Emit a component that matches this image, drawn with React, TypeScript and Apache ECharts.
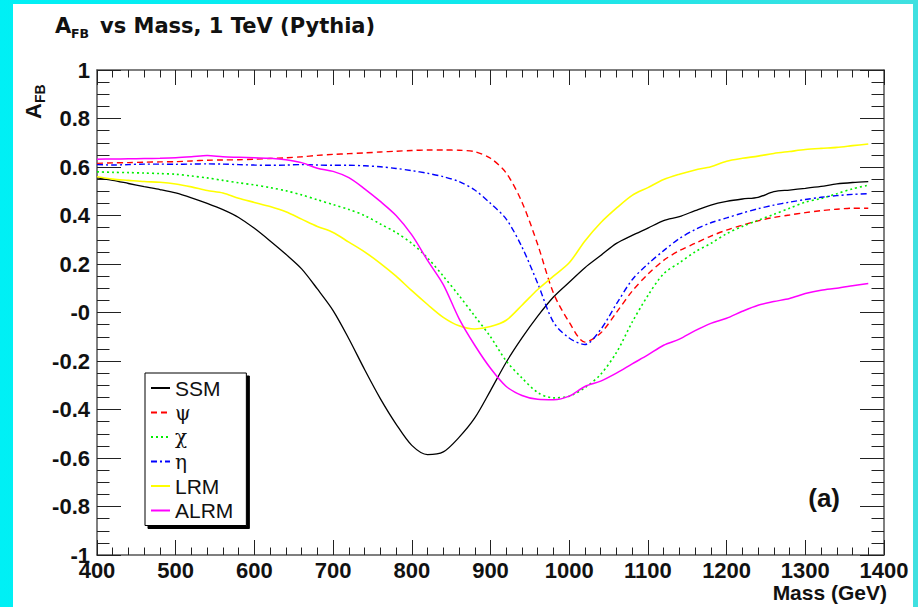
import React, { useEffect, useRef } from "react";
import * as echarts from "echarts";

const MASS = [400, 420, 440, 460, 480, 500, 520, 540, 560, 580, 600, 620, 640, 660, 680, 700, 720, 740, 760, 780, 800, 820, 840, 860, 880, 900, 920, 940, 960, 980, 1000, 1020, 1040, 1060, 1080, 1100, 1120, 1140, 1160, 1180, 1200, 1220, 1240, 1260, 1280, 1300, 1320, 1340, 1360, 1380];

const SSM = [0.555, 0.545, 0.532, 0.519, 0.507, 0.493, 0.473, 0.45, 0.424, 0.392, 0.347, 0.295, 0.24, 0.18, 0.097, 0.008, -0.108, -0.235, -0.355, -0.46, -0.548, -0.586, -0.575, -0.515, -0.435, -0.322, -0.205, -0.105, -0.015, 0.064, 0.125, 0.185, 0.235, 0.285, 0.318, 0.348, 0.379, 0.395, 0.42, 0.443, 0.458, 0.468, 0.475, 0.498, 0.505, 0.512, 0.52, 0.53, 0.536, 0.54];
const PSI = [0.615, 0.617, 0.618, 0.62, 0.621, 0.622, 0.625, 0.628, 0.629, 0.63, 0.632, 0.635, 0.638, 0.642, 0.648, 0.652, 0.655, 0.658, 0.662, 0.665, 0.668, 0.67, 0.67, 0.669, 0.663, 0.636, 0.575, 0.455, 0.28, 0.08, -0.04, -0.122, -0.085, 0.0, 0.088, 0.158, 0.215, 0.255, 0.285, 0.315, 0.34, 0.36, 0.378, 0.392, 0.402, 0.412, 0.42, 0.426, 0.43, 0.43];
const CHI = [0.58, 0.578, 0.577, 0.575, 0.573, 0.57, 0.563, 0.555, 0.545, 0.535, 0.526, 0.515, 0.502, 0.485, 0.465, 0.445, 0.425, 0.4, 0.365, 0.33, 0.285, 0.225, 0.15, 0.07, -0.015, -0.1, -0.2, -0.27, -0.33, -0.352, -0.345, -0.31, -0.255, -0.165, -0.04, 0.07, 0.16, 0.205, 0.25, 0.285, 0.325, 0.355, 0.38, 0.405, 0.43, 0.455, 0.47, 0.49, 0.51, 0.525];
const ETA = [0.61, 0.608, 0.61, 0.612, 0.612, 0.611, 0.612, 0.613, 0.612, 0.61, 0.608, 0.607, 0.608, 0.61, 0.608, 0.607, 0.607, 0.605, 0.601, 0.594, 0.585, 0.574, 0.56, 0.54, 0.505, 0.45, 0.385, 0.27, 0.12, -0.04, -0.105, -0.132, -0.07, 0.035, 0.135, 0.2, 0.255, 0.305, 0.342, 0.37, 0.39, 0.41, 0.428, 0.443, 0.455, 0.466, 0.475, 0.482, 0.487, 0.49];
const LRM = [0.56, 0.55, 0.545, 0.54, 0.537, 0.53, 0.518, 0.503, 0.493, 0.471, 0.454, 0.437, 0.415, 0.385, 0.355, 0.33, 0.29, 0.25, 0.203, 0.15, 0.09, 0.033, -0.02, -0.055, -0.068, -0.058, -0.032, 0.03, 0.095, 0.15, 0.205, 0.295, 0.37, 0.43, 0.483, 0.515, 0.548, 0.57, 0.588, 0.601, 0.624, 0.636, 0.645, 0.656, 0.664, 0.672, 0.677, 0.681, 0.688, 0.695];
const ALRM = [0.632, 0.633, 0.634, 0.635, 0.636, 0.638, 0.642, 0.647, 0.642, 0.64, 0.638, 0.636, 0.63, 0.618, 0.595, 0.582, 0.556, 0.51, 0.458, 0.4, 0.32, 0.215, 0.115, -0.025, -0.135, -0.23, -0.305, -0.342, -0.358, -0.36, -0.345, -0.305, -0.283, -0.25, -0.212, -0.175, -0.135, -0.11, -0.075, -0.045, -0.024, 0.005, 0.03, 0.045, 0.058, 0.078, 0.092, 0.1, 0.11, 0.12];

const SERIES_NAMES = ["SSM", "ψ", "χ", "η", "LRM", "ALRM"];
const GREEK = ["ψ", "χ", "η"];

const X_MIN = 400, X_MAX = 1400, X_STEP = 100;
const Y_MIN = -1, Y_MAX = 1, Y_STEP = 0.2;

const SANS = "'Liberation Sans', Arial, Helvetica, sans-serif";

export default function App() {
  const ref = useRef<HTMLDivElement>(null);

  useEffect(() => {
    if (!ref.current) return;
    const chart = echarts.init(ref.current, null, { renderer: "svg" });
    const pairs = (vals: number[]) => MASS.map((m, i) => [m, vals[i]]);

    const styles = [
      { color: "#000000", type: "solid", width: 1.3 },
      { color: "#ff0000", type: [6, 4], width: 1.4 },
      { color: "#00ee00", type: [2, 3], width: 1.6 },
      { color: "#0000ff", type: [6, 3, 2, 3], width: 1.4 },
      { color: "#ffff00", type: "solid", width: 1.6 },
      { color: "#ff00ff", type: "solid", width: 1.5 },
    ];
    const dataSets = [SSM, PSI, CHI, ETA, LRM, ALRM];

    const axisCommon = {
      axisLine: { show: true, onZero: false, lineStyle: { color: "#555", width: 1.5 } },
      splitLine: { show: false },
    };

    const xAxisBase = {
      type: "value",
      min: X_MIN,
      max: X_MAX,
      interval: X_STEP,
      ...axisCommon,
      axisTick: { show: true, inside: true, length: 15, lineStyle: { color: "#222", width: 1 } },
      minorTick: { show: true, splitNumber: 5, length: 7.5, lineStyle: { color: "#222", width: 1 } },
    };
    const yAxisBase = {
      type: "value",
      min: Y_MIN,
      max: Y_MAX,
      interval: Y_STEP,
      ...axisCommon,
      axisTick: { show: true, inside: true, length: 24, lineStyle: { color: "#222", width: 1 } },
      minorTick: { show: true, splitNumber: 4, length: 12.5, lineStyle: { color: "#222", width: 1 } },
    };

    const yFmt = (v: number) => {
      const r = Math.round(v * 10) / 10;
      if (r === 0) return "-0";
      if (Math.abs(r) === 1) return r > 0 ? "1" : "-1";
      return r.toFixed(1);
    };

    chart.setOption({
      animation: false,
      backgroundColor: "#ffffff",
      grid: { left: 84, right: 29, top: 66, bottom: 52, containLabel: false },
      xAxis: [
        {
          ...xAxisBase,
          position: "bottom",
          axisLabel: {
            show: true,
            margin: 4,
            fontSize: 22,
            fontWeight: "bold",
            color: "#111",
            fontFamily: SANS,
            formatter: (v: number) => String(Math.round(v)),
          },
        },
        { ...xAxisBase, position: "top", axisLabel: { show: false } },
      ],
      yAxis: [
        {
          ...yAxisBase,
          position: "left",
          axisLabel: {
            show: true,
            margin: 7,
            fontSize: 22,
            fontWeight: "bold",
            color: "#111",
            fontFamily: SANS,
            formatter: yFmt,
          },
        },
        { ...yAxisBase, position: "right", axisLabel: { show: false } },
      ],
      legend: {
        orient: "vertical",
        left: 132,
        top: 369,
        itemWidth: 19,
        itemHeight: 12,
        itemGap: 2.5,
        padding: [4, 13, 4, 5],
        backgroundColor: "#ffffff",
        borderColor: "#000000",
        borderWidth: 1,
        borderRadius: 0,
        shadowColor: "#000000",
        shadowBlur: 0,
        shadowOffsetX: 3,
        shadowOffsetY: 3,
        itemStyle: { opacity: 0 },
        data: SERIES_NAMES,
        formatter: (name: string) => (GREEK.includes(name) ? `{g|${name}}` : name),
        textStyle: {
          fontFamily: SANS,
          fontSize: 21,
          lineHeight: 22,
          color: "#111",
          rich: {
            g: { fontFamily: "'DejaVu Serif', 'Liberation Serif', serif", fontSize: 20, lineHeight: 22, color: "#111" },
          },
        },
      },
      series: SERIES_NAMES.map((name, i) => ({
        name,
        type: "line",
        xAxisIndex: 0,
        yAxisIndex: 0,
        data: pairs(dataSets[i]),
        showSymbol: false,
        symbol: "none",
        smooth: 0.3,
        color: styles[i].color,
        lineStyle: { color: styles[i].color, type: styles[i].type, width: styles[i].width },
        z: 2,
      })),
      graphic: [
        {
          type: "text",
          x: 42,
          y: 21.5,
          style: { text: "A", fontFamily: "'DejaVu Sans', sans-serif", fontWeight: "bold", fontSize: 21, fill: "#111", verticalAlign: "middle", align: "left" },
        },
        {
          type: "text",
          x: 58,
          y: 29.5,
          style: { text: "FB", fontFamily: "'DejaVu Sans', sans-serif", fontWeight: "bold", fontSize: 12.5, fill: "#111", verticalAlign: "middle", align: "left" },
        },
        {
          type: "text",
          x: 87,
          y: 21.5,
          style: { text: "vs Mass, 1 TeV (Pythia)", fontFamily: "'DejaVu Sans', sans-serif", fontWeight: "bold", fontSize: 21, fill: "#111", verticalAlign: "middle", align: "left" },
        },
        {
          type: "group",
          x: 31,
          y: 115,
          rotation: Math.PI / 2,
          children: [
            {
              type: "text",
              x: 0,
              y: 0,
              style: { text: "A", fontFamily: SANS, fontWeight: "bold", fontSize: 22, fill: "#111", verticalAlign: "bottom", align: "left" },
            },
            {
              type: "text",
              x: 16,
              y: 3,
              style: { text: "FB", fontFamily: SANS, fontWeight: "bold", fontSize: 14, fill: "#111", verticalAlign: "bottom", align: "left" },
            },
          ],
        },
        {
          type: "text",
          x: 874,
          y: 588.5,
          style: { text: "Mass (GeV)", fontFamily: SANS, fontWeight: "bold", fontSize: 21, fill: "#111", verticalAlign: "middle", align: "right" },
        },
        {
          type: "text",
          x: 827,
          y: 494,
          style: { text: "(a)", fontFamily: SANS, fontWeight: "bold", fontSize: 26, fill: "#111", verticalAlign: "middle", align: "right" },
        },
      ],
    });

    return () => chart.dispose();
  }, []);

  return (
    <div
      style={{
        position: "fixed",
        left: 0,
        top: 0,
        width: 918,
        height: 607,
        background: "linear-gradient(90deg, #00f0f5 0%, #10e8ec 50%, #40e0e0 100%)",
        overflow: "hidden",
      }}
    >
      <div
        ref={ref}
        style={{ position: "absolute", left: 13, top: 4, width: 900, height: 603, background: "#ffffff" }}
      />
    </div>
  );
}
